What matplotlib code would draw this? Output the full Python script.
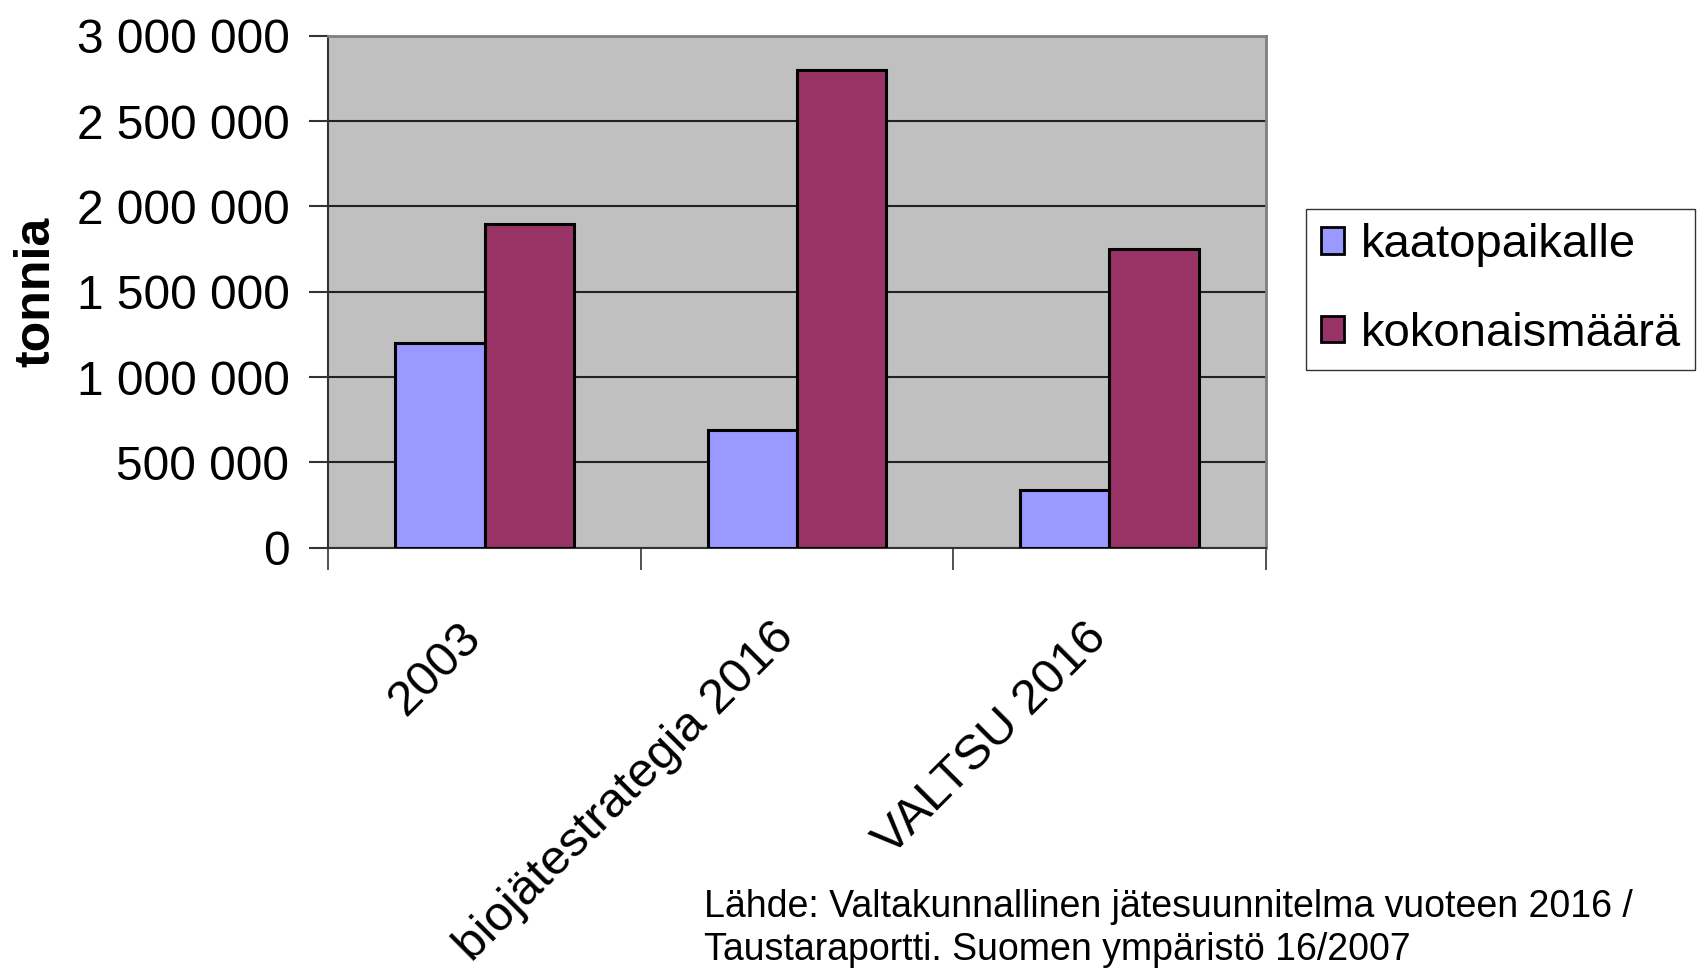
import matplotlib.pyplot as plt
import numpy as np
from matplotlib.patches import Patch
from matplotlib.transforms import ScaledTranslation

plt.rcParams['font.family'] = ['Liberation Sans', 'DejaVu Sans']

kategoriat = ['2003', 'biojätestrategia 2016', 'VALTSU 2016']
kaatopaikalle = [1200000, 690000, 340000]
kokonaismaara = [1900000, 2800000, 1750000]
y_ticks = [0, 500000, 1000000, 1500000, 2000000, 2500000, 3000000]

sininen = '#9999FF'
violetti = '#993366'

fig = plt.figure(figsize=(17.01, 9.71), dpi=100)
ax = fig.add_axes([0.193, 0.436, 0.551, 0.527])
ax.set_facecolor('#C0C0C0')

x = np.arange(len(kategoriat))
w = 0.2857
ax.bar(x - w / 2, kaatopaikalle, w, color=sininen, edgecolor='black', linewidth=2.2, zorder=3)
ax.bar(x + w / 2, kokonaismaara, w, color=violetti, edgecolor='black', linewidth=2.2, zorder=3)

ax.set_xlim(-0.5, 2.5)
ax.set_ylim(0, 3000000)
ax.set_yticks(y_ticks)
ax.set_yticklabels([f'{v:,}'.replace(',', ' ') for v in y_ticks], fontsize=34.5)
ax.yaxis.grid(True, color='#222222', linewidth=1.5, zorder=0)

ax.set_xticks([-0.5, 0.5, 1.5, 2.5])
ax.set_xticklabels([])
ax.set_xticks(x, minor=True)
ax.set_xticklabels(kategoriat, minor=True, rotation=45, ha='right',
                   rotation_mode='anchor', fontsize=35.5)
ax.tick_params(axis='x', which='minor', length=0, pad=28)
ax.tick_params(axis='x', which='major', length=16, width=1.2, direction='out', color='#333333')
ax.tick_params(axis='y', length=14, width=1.5, direction='out', pad=14, color='#333333')

siirto = ScaledTranslation(-0.26, -0.28, fig.dpi_scale_trans)
for lbl in ax.get_xticklabels(minor=True):
    lbl.set_transform(lbl.get_transform() + siirto)

for s in ['top', 'right']:
    ax.spines[s].set_color('#808080')
    ax.spines[s].set_linewidth(2)
ax.spines['left'].set_color('#333333')
ax.spines['left'].set_linewidth(1.5)
ax.spines['bottom'].set_color('#333333')
ax.spines['bottom'].set_linewidth(1.5)

ax.set_ylabel('tonnia', fontsize=36, fontweight='bold', labelpad=12)

handles = [Patch(facecolor=sininen, edgecolor='black', linewidth=2),
           Patch(facecolor=violetti, edgecolor='black', linewidth=2)]
leg = fig.legend(handles, ['kaatopaikalle', 'kokonaismäärä'], loc='upper left',
                 bbox_to_anchor=(0.768, 0.785), bbox_transform=fig.transFigure,
                 fontsize=34, frameon=True, fancybox=False, borderaxespad=0,
                 handlelength=0.5, handleheight=0.5, handletextpad=0.35,
                 labelspacing=0.95, borderpad=0.3)
leg.get_frame().set_edgecolor('black')
leg.get_frame().set_linewidth(1)

fig.text(0.414, 0.084, 'Lähde: Valtakunnallinen jätesuunnitelma vuoteen 2016 /\n'
         'Taustaraportti. Suomen ympäristö 16/2007',
         fontsize=27, va='top', ha='left', linespacing=1.25)

fig.savefig('out.png', dpi=100)
